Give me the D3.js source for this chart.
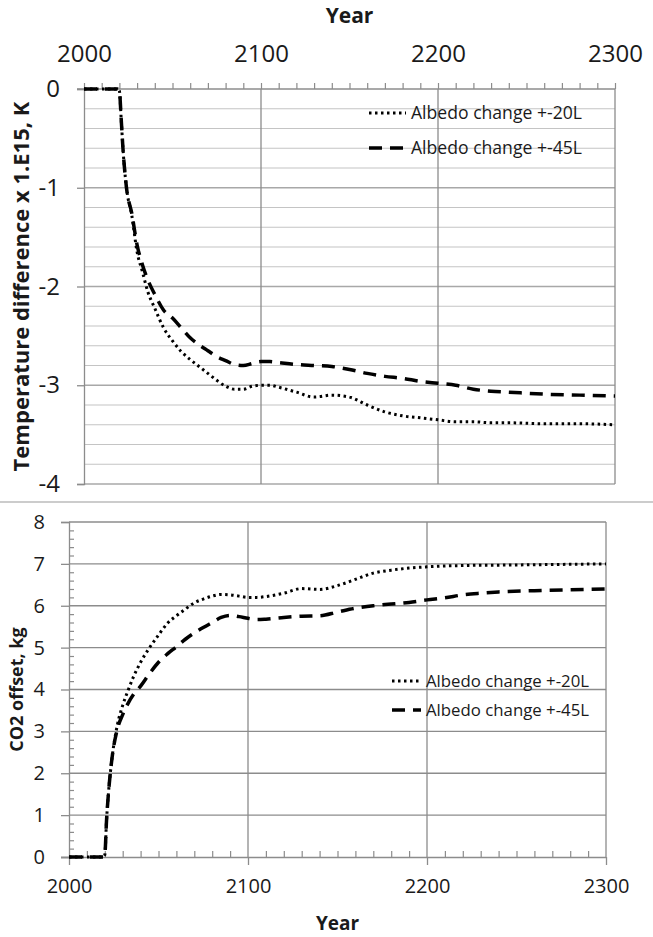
<!DOCTYPE html>
<html>
<head>
<meta charset="utf-8">
<script src="https://cdn.jsdelivr.net/npm/d3@7"></script>
<style>
  body { margin: 0; background: #fff; }
  text { font-family: "Open Sans", sans-serif; fill: #1a1a1a; }
</style>
</head>
<body>
<script>
// shared year grid for every series
const years = [2000, 2010, 2019, 2020, 2021, 2022, 2024, 2027, 2030, 2033,
    2036, 2040, 2045, 2050, 2055, 2060, 2065, 2070, 2075, 2080,
    2085, 2090, 2095, 2100, 2105, 2110, 2120, 2130, 2140, 2150,
    2160, 2170, 2180, 2190, 2200, 2210, 2220, 2230, 2240, 2260,
    2280, 2300];

// top panel: temperature difference x 1.E15, K
const tempAlb20 = [0, 0, 0, -0.02, -0.3, -0.6, -1.0, -1.28, -1.65, -1.85,
    -2.05, -2.22, -2.42, -2.55, -2.66, -2.74, -2.81, -2.88, -2.95, -3.01,
    -3.04, -3.04, -3.01, -3.0, -3.0, -3.02, -3.07, -3.12, -3.1, -3.12,
    -3.2, -3.27, -3.31, -3.33, -3.35, -3.37, -3.37, -3.38, -3.38, -3.39,
    -3.39, -3.40];
const tempAlb45 = [0, 0, 0, -0.02, -0.3, -0.6, -1.0, -1.26, -1.58, -1.78,
    -1.93, -2.08, -2.24, -2.32, -2.42, -2.52, -2.59, -2.65, -2.71, -2.75,
    -2.79, -2.8, -2.78, -2.76, -2.76, -2.77, -2.79, -2.8, -2.81, -2.84,
    -2.88, -2.91, -2.93, -2.96, -2.98, -3.0, -3.04, -3.06, -3.07, -3.09,
    -3.1, -3.11];

// bottom panel: CO2 offset, kg
const co2Alb20 = [0, 0, 0, 0.05, 0.9, 1.5, 2.35, 3.15, 3.62, 3.98,
    4.3, 4.65, 5.0, 5.3, 5.58, 5.76, 5.92, 6.07, 6.16, 6.23,
    6.27, 6.26, 6.23, 6.2, 6.2, 6.22, 6.3, 6.41, 6.39, 6.48,
    6.63, 6.78, 6.85, 6.9, 6.93, 6.95, 6.96, 6.97, 6.97, 6.98,
    6.99, 7.0];
const co2Alb45 = [0, 0, 0, 0.05, 0.9, 1.5, 2.35, 3.05, 3.4, 3.67,
    3.88, 4.08, 4.38, 4.65, 4.85, 5.02, 5.2, 5.35, 5.48, 5.6,
    5.72, 5.77, 5.74, 5.7, 5.67, 5.68, 5.72, 5.75, 5.76, 5.85,
    5.94, 6.0, 6.04, 6.08, 6.14, 6.19, 6.26, 6.3, 6.33, 6.36,
    6.38, 6.4];

const seriesNames = ["Albedo change +-20L", "Albedo change +-45L"];
const yearTicks = [2000, 2100, 2200, 2300];
const tempTicks = [0, -1, -2, -3, -4];
const co2Ticks = [0, 1, 2, 3, 4, 5, 6, 7, 8];

const W = 653, H = 937;
const dotStyle = {width: 3, dash: "2.5,3.5", cap: "butt"};
const dashStyle = {width: 3.5, dash: "13,8", cap: "butt"};

const svg = d3.select("body").append("svg")
    .attr("width", W).attr("height", H);

svg.append("rect").attr("width", W).attr("height", H).attr("fill", "#fff");

function drawSeries(g, x, y, values, style) {
    const line = d3.line()
        .x((d, i) => x(years[i]))
        .y(d => y(d))
        .curve(d3.curveMonotoneX);
    g.append("path")
        .datum(values)
        .attr("d", line)
        .attr("fill", "none")
        .attr("stroke", "#000")
        .attr("stroke-width", style.width)
        .attr("stroke-dasharray", style.dash)
        .attr("stroke-linecap", style.cap);
}

function drawLegend(g, x0, y0, rowGap, sampleLen, fontSize) {
    [dotStyle, dashStyle].forEach((s, i) => {
        const yy = y0 + i * rowGap;
        g.append("line")
            .attr("x1", x0).attr("x2", x0 + sampleLen)
            .attr("y1", yy).attr("y2", yy)
            .attr("stroke", "#000")
            .attr("stroke-width", s.width)
            .attr("stroke-dasharray", s.dash);
        g.append("text")
            .attr("x", x0 + sampleLen + 5).attr("y", yy)
            .attr("dy", "0.35em")
            .style("font-size", fontSize + "px")
            .text(seriesNames[i]);
    });
}

// ---------- top panel ----------
{
    const x = d3.scaleLinear().domain([2000, 2300]).range([84, 615]);
    const y = d3.scaleLinear().domain([-4, 0]).range([484, 89]);
    const g = svg.append("g");

    // minor horizontal grid every 0.2
    g.append("g").selectAll("line")
        .data(d3.range(-3.8, 0, 0.2).filter(v => Math.abs(v - Math.round(v)) > 0.01))
        .join("line")
        .attr("x1", x(2000)).attr("x2", x(2300))
        .attr("y1", d => y(d)).attr("y2", d => y(d))
        .attr("stroke", "#c4c4c4").attr("stroke-width", 1.2);

    g.append("g").selectAll("line")
        .data([-1, -2, -3, -4])
        .join("line")
        .attr("x1", x(2000)).attr("x2", x(2300))
        .attr("y1", d => y(d)).attr("y2", d => y(d))
        .attr("stroke", "#a8a8a8").attr("stroke-width", 1.3);

    g.append("g").selectAll("line")
        .data([2100, 2200, 2300])
        .join("line")
        .attr("x1", d => x(d)).attr("x2", d => x(d))
        .attr("y1", y(0)).attr("y2", y(-4))
        .attr("stroke", "#8c8c8c").attr("stroke-width", 1.3);

    // top axis with minor ticks every 10 years
    const top = g.append("g").attr("transform", `translate(0,${y(0)})`)
        .call(d3.axisTop(x).tickValues(d3.range(2000, 2301, 10)).tickSize(6)
            .tickFormat(d => d % 100 === 0 ? d : ""));
    top.select(".domain").remove();
    top.selectAll(".tick line").attr("stroke", "#8c8c8c").attr("stroke-width", 1.2);
    top.selectAll(".tick text").attr("y", -27).attr("dy", 0)
        .style("font-size", "24px");
    g.append("line")
        .attr("x1", 77).attr("x2", x(2300))
        .attr("y1", y(0)).attr("y2", y(0))
        .attr("stroke", "#8c8c8c").attr("stroke-width", 1.3);

    const left = g.append("g").attr("transform", `translate(${x(2000)},0)`)
        .call(d3.axisLeft(y).tickValues(tempTicks).tickSize(7).tickPadding(17)
            .tickFormat(d => String(d)));
    left.select(".domain").attr("stroke", "#8c8c8c").attr("stroke-width", 1.3);
    left.selectAll(".tick line").attr("stroke", "#8c8c8c").attr("stroke-width", 1.3);
    left.selectAll(".tick text").style("font-size", "24px");

    drawSeries(g, x, y, tempAlb20, dotStyle);
    drawSeries(g, x, y, tempAlb45, dashStyle);

    drawLegend(g, 369, 113, 35, 37, 17.6);

    g.append("text")
        .attr("x", (x(2000) + x(2300)) / 2).attr("y", 23)
        .attr("text-anchor", "middle")
        .style("font-size", "21px").style("font-weight", "bold")
        .text("Year");

    g.append("text")
        .attr("transform", `translate(29,${(y(0) + y(-4)) / 2}) rotate(-90)`)
        .attr("text-anchor", "middle")
        .style("font-size", "22px").style("font-weight", "bold")
        .text("Temperature difference x 1.E15, K");
}

// separator between the two panels
svg.append("line")
    .attr("x1", 0).attr("x2", W).attr("y1", 502).attr("y2", 502)
    .attr("stroke", "#9a9a9a").attr("stroke-width", 1.2);

// ---------- bottom panel ----------
{
    const x = d3.scaleLinear().domain([2000, 2300]).range([69, 606]);
    const y = d3.scaleLinear().domain([0, 8]).range([857, 522]);
    const g = svg.append("g");

    g.append("g").selectAll("line")
        .data(d3.range(1, 9))
        .join("line")
        .attr("x1", x(2000)).attr("x2", x(2300))
        .attr("y1", d => y(d)).attr("y2", d => y(d))
        .attr("stroke", "#8c8c8c").attr("stroke-width", 1.3);

    g.append("g").selectAll("line")
        .data([2100, 2200, 2300])
        .join("line")
        .attr("x1", d => x(d)).attr("x2", d => x(d))
        .attr("y1", y(8)).attr("y2", y(0))
        .attr("stroke", "#8c8c8c").attr("stroke-width", 1.3);

    // minor ticks inside the plot
    const minorX = g.append("g").attr("transform", `translate(0,${y(0)})`)
        .call(d3.axisTop(x).tickValues(d3.range(2010, 2300, 10).filter(d => d % 100 !== 0))
            .tickSize(6).tickFormat(""));
    minorX.select(".domain").remove();
    minorX.selectAll(".tick line").attr("stroke", "#8c8c8c").attr("stroke-width", 1.2);

    const minorY = g.append("g").attr("transform", `translate(${x(2000)},0)`)
        .call(d3.axisRight(y).tickValues(d3.range(0.2, 8, 0.2).filter(v => Math.abs(v - Math.round(v)) > 0.01))
            .tickSize(5).tickFormat(""));
    minorY.select(".domain").remove();
    minorY.selectAll(".tick line").attr("stroke", "#8c8c8c").attr("stroke-width", 1.2);

    const bottom = g.append("g").attr("transform", `translate(0,${y(0)})`)
        .call(d3.axisBottom(x).tickValues(yearTicks).tickSize(8).tickPadding(14)
            .tickFormat(d3.format("d")));
    bottom.select(".domain").attr("d", `M61,0.5H${x(2300)}`)
        .attr("stroke", "#8c8c8c").attr("stroke-width", 1.3);
    bottom.selectAll(".tick line").attr("stroke", "#8c8c8c").attr("stroke-width", 1.3);
    bottom.selectAll(".tick text").style("font-size", "20px");

    const left = g.append("g").attr("transform", `translate(${x(2000)},0)`)
        .call(d3.axisLeft(y).tickValues(co2Ticks).tickSize(8).tickPadding(16)
            .tickFormat(d => String(d)));
    left.select(".domain").attr("stroke", "#8c8c8c").attr("stroke-width", 1.3);
    left.selectAll(".tick line").attr("stroke", "#8c8c8c").attr("stroke-width", 1.3);
    left.selectAll(".tick text").style("font-size", "20px");

    drawSeries(g, x, y, co2Alb20, dotStyle);
    drawSeries(g, x, y, co2Alb45, dashStyle);

    drawLegend(g, 392, 681, 29, 29, 16.8);

    g.append("text")
        .attr("x", (x(2000) + x(2300)) / 2).attr("y", 930)
        .attr("text-anchor", "middle")
        .style("font-size", "19px").style("font-weight", "bold")
        .text("Year");

    g.append("text")
        .attr("transform", `translate(23,${(y(0) + y(8)) / 2}) rotate(-90)`)
        .attr("text-anchor", "middle")
        .style("font-size", "18px").style("font-weight", "bold")
        .text("CO2 offset, kg");
}
</script>
</body>
</html>
